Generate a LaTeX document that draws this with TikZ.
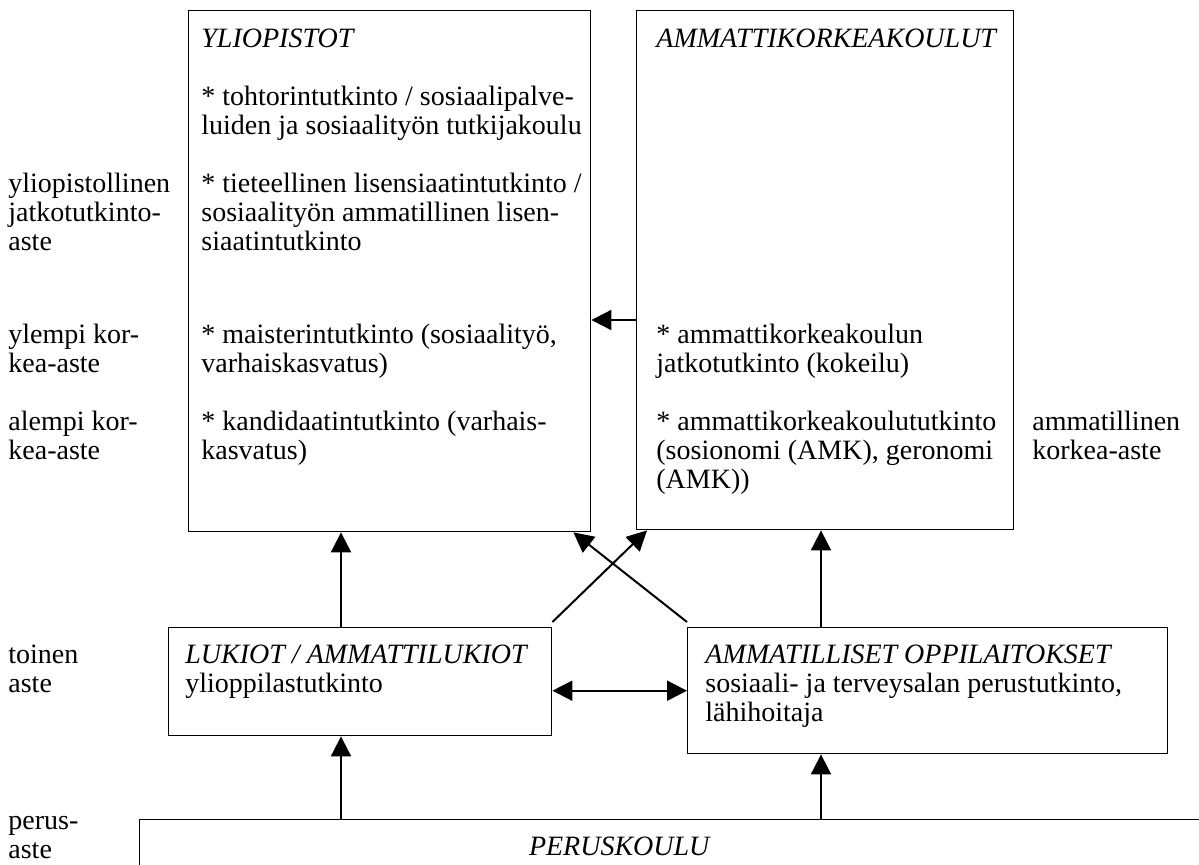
\documentclass[tikz,border=0pt]{standalone}
\usepackage{fontspec}
\setmainfont{Liberation Serif}
\usetikzlibrary{arrows.meta,positioning}

\tikzset{
  box/.style={draw, line width=0.7pt, anchor=north west, inner sep=0pt},
  txt/.style={anchor=north west, inner sep=0pt, align=left,
    font=\fontsize{14}{14.5}\selectfont},
  up/.style={-{Triangle[length=10pt,width=10pt]}, line width=1pt},
  both/.style={{Triangle[length=10pt,width=10pt]}-{Triangle[length=10pt,width=10pt]}, line width=1pt},
}

\begin{document}
\begin{tikzpicture}[x=0.5pt,y=-0.5pt]
  \useasboundingbox (0,0) rectangle (1199,864);
  \clip (0,0) rectangle (1199,864);

  % boxes
  \node[box, minimum width=201pt, minimum height=260.5pt] (yo) at (188,10) {};
  \node[box, minimum width=188.5pt, minimum height=259.5pt] (amk) at (636,10) {};
  \node[box, minimum width=191.5pt, minimum height=54pt] (luk) at (168,627) {};
  \node[box, minimum width=240pt, minimum height=63pt] (amm) at (687,627) {};
  \node[box, minimum width=545.5pt, minimum height=40.5pt] (perus) at (139,819) {};

  % levels
  \node[txt] (lvJ) at (8,172) {\strut yliopistollinen\\ jatkotutkinto-\\ aste};
  \node[txt] (lvY) at (8,323) {\strut ylempi kor-\\ kea-aste};
  \node[txt] (lvA) at (8,410) {\strut alempi kor-\\ kea-aste};
  \node[txt] (lvT) at (8,643) {\strut toinen\\ aste};
  \node[txt] (lvP) at (8,809) {\strut perus-\\ aste};
  \node[txt] (lvK) at (1032,410) {\strut ammatillinen\\ korkea-aste};

  % box texts
  \node[txt] (yoT) at (201,27) {\strut\textit{YLIOPISTOT}\\[14.5pt]
    {*} tohtorintutkinto / sosiaalipalve-\\
    luiden ja sosiaalityön tutkijakoulu\\[14.5pt]
    {*} tieteellinen lisensiaatintutkinto /\\
    sosiaalityön ammatillinen lisen-\\
    siaatintutkinto\\[32pt]
    {*} maisterintutkinto (sosiaalityö,\\
    varhaiskasvatus)\\[14.5pt]
    {*} kandidaatintutkinto (varhais-\\
    kasvatus)};
  \node[txt] (amkT) at (656,27) {\strut\textit{AMMATTIKORKEAKOULUT}};
  \node[txt] (amkL) at (656,323) {\strut{*} ammattikorkeakoulun\\
    jatkotutkinto (kokeilu)\\[14.5pt]
    {*} ammattikorkeakoulututkinto\\
    (sosionomi (AMK), geronomi\\
    (AMK))};
  \node[txt] (lukT) at (185,643) {\strut\textit{LUKIOT / AMMATTILUKIOT}\\
    ylioppilastutkinto};
  \node[txt] (ammT) at (705,643) {\strut\textit{AMMATILLISET OPPILAITOKSET}\\
    sosiaali- ja terveysalan perustutkinto,\\
    lähihoitaja};
  \node[anchor=base, inner sep=0pt, font=\fontsize{14}{14.5}\selectfont]
    (perusT) at (620,855) {\textit{PERUSKOULU}};

  % arrows
  \coordinate (colL) at (341,0);
  \coordinate (colR) at (821,0);
  \coordinate (rowA) at (0,320);
  \draw[up] (amk.west |- rowA) -- (yo.east |- rowA);
  \draw[up] (luk.north -| colL) -- (yo.south -| colL);
  \draw[up] ([yshift=2.5pt]luk.north east) -- ([xshift=5.5pt]amk.south west);
  \draw[up] ([yshift=2.5pt]amm.north west) -- ([xshift=-9pt]yo.south east);
  \draw[up] (amm.north -| colR) -- (amk.south -| colR);
  \draw[both] (luk.east |- amm.west) -- (amm.west);
  \draw[up] (perus.north -| colL) -- (luk.south -| colL);
  \draw[up] (perus.north -| colR) -- (amm.south -| colR);
\end{tikzpicture}
\end{document}
